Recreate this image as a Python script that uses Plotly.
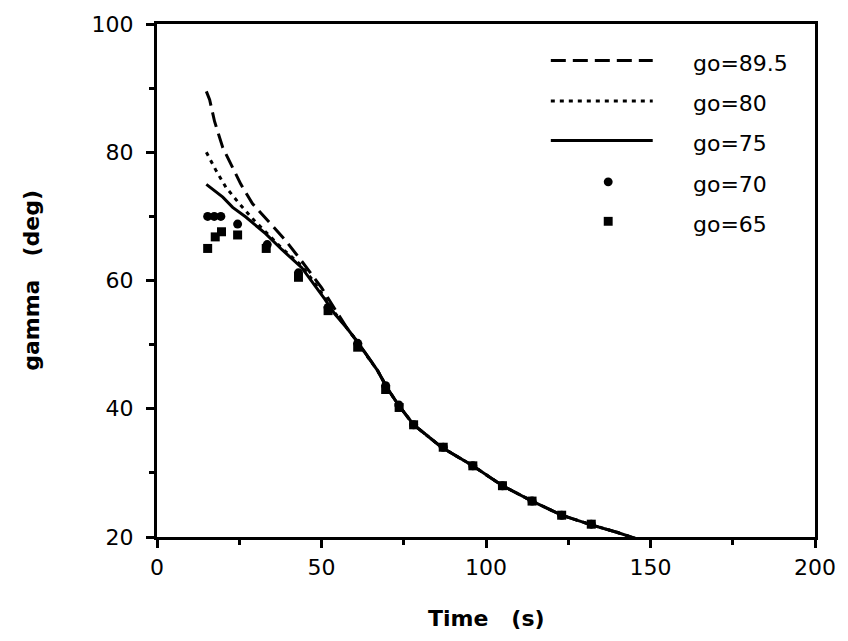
import plotly.graph_objects as go

# ---------------- data ----------------
# shared tail of all trajectories (curves merge after ~t=55 s)
t_tail = [58, 61, 64, 67, 70, 73.5, 78, 86.5, 96, 105, 114, 123, 132, 140, 147]
g_tail = [52.4, 50.4, 48.1, 46.0, 43.2, 40.5, 37.5, 34.0, 31.1, 28.0, 25.6, 23.4, 21.9, 20.7, 19.5]

t_895 = [15, 16, 17.5, 20, 23, 25.5, 29, 34.5, 39, 44, 50, 54]
g_895 = [89.5, 88.2, 84.8, 80.7, 77.6, 75.0, 72.0, 68.9, 66.3, 63.0, 58.9, 55.6]

t_80 = [15, 18, 21, 25, 29.5, 33.5, 38, 44, 47.5, 51, 54]
g_80 = [80.0, 77.1, 74.5, 72.0, 69.4, 67.3, 65.0, 62.3, 59.9, 57.3, 55.0]

t_75 = [15, 16.5, 18, 20, 23, 27, 33, 38, 44, 47.5, 51, 54]
g_75 = [75.0, 74.4, 73.8, 73.0, 71.4, 69.9, 67.3, 64.8, 62.0, 59.6, 57.1, 54.8]

t_70 = [15.4, 17.4, 19.4, 24.5, 33.5, 43, 52, 61, 69.5, 73.5, 78, 87, 96, 105, 114, 123, 132]
g_70 = [70.0, 70.0, 70.0, 68.8, 65.6, 61.2, 55.8, 50.2, 43.6, 40.6, 37.5, 34.0, 31.1, 28.0, 25.6, 23.4, 22.0]

t_65 = [15.4, 17.7, 19.6, 24.5, 33.2, 43, 52, 61, 69.5, 73.6, 78, 87, 96, 105, 114, 123, 132]
g_65 = [65.0, 66.8, 67.6, 67.1, 65.0, 60.5, 55.3, 49.6, 43.0, 40.2, 37.5, 34.0, 31.1, 28.0, 25.6, 23.4, 22.0]

x_ticks = [0, 50, 100, 150, 200]
y_ticks = [20, 40, 60, 80, 100]

legend_labels = ["go=89.5", "go=80", "go=75", "go=70", "go=65"]

FONT = "DejaVu Sans, Arial, sans-serif"
BLACK = "#000000"
DASH_LONG = "15px,7px"
DASH_DOT = "4px,5px"

fig = go.Figure()

line_series = [
    (t_895 + t_tail, g_895 + g_tail, DASH_LONG, legend_labels[0]),
    (t_80 + t_tail, g_80 + g_tail, DASH_DOT, legend_labels[1]),
    (t_75 + t_tail, g_75 + g_tail, "solid", legend_labels[2]),
]
for xs, ys, dash, name in line_series:
    fig.add_trace(go.Scatter(x=xs, y=ys, mode="lines", name=name,
                             line=dict(color=BLACK, width=3, dash=dash),
                             showlegend=False, cliponaxis=True))

fig.add_trace(go.Scatter(x=t_70, y=g_70, mode="markers", name=legend_labels[3],
                         marker=dict(symbol="circle", size=9, color=BLACK),
                         showlegend=False))
fig.add_trace(go.Scatter(x=t_65, y=g_65, mode="markers", name=legend_labels[4],
                         marker=dict(symbol="square", size=9, color=BLACK),
                         showlegend=False))

# ---------------- layout ----------------
L, R, T, B = 157, 26, 17, 104
W, H = 848, 641
pw, ph = W - L - R, H - T - B


def px_x(p):
    return (p - L) / pw


def px_y(p):
    return (H - B - p) / ph


axis_common = dict(
    showgrid=False, zeroline=False, showline=True, linecolor=BLACK, linewidth=3,
    mirror=True, ticks="outside", tickcolor=BLACK, tickwidth=3, ticklen=8,
    tickfont=dict(family=FONT, size=22, color=BLACK),
)

fig.update_layout(
    width=W, height=H, margin=dict(l=L, r=R, t=T, b=B, pad=0),
    paper_bgcolor="white", plot_bgcolor="white",
    showlegend=False,
    xaxis=dict(range=[0, 200], tickvals=x_ticks, ticktext=[str(v) for v in x_ticks],
               ticklabelstandoff=1,
               minor=dict(dtick=25, tick0=0, ticks="outside", ticklen=5, tickwidth=3, tickcolor=BLACK),
               **axis_common),
    yaxis=dict(range=[20, 100], tickvals=y_ticks, ticktext=[str(v) for v in y_ticks],
               ticklabelstandoff=8,
               minor=dict(dtick=10, tick0=0, ticks="outside", ticklen=5, tickwidth=3, tickcolor=BLACK),
               **axis_common),
)

NB = "\u00a0"
# axis titles
fig.add_annotation(text="<b>Time" + NB * 3 + "(s)</b>", xref="paper", yref="paper",
                   x=0.5, y=px_y(620), xanchor="center", yanchor="middle", showarrow=False,
                   font=dict(family=FONT, size=22, color=BLACK))
fig.add_annotation(text="<b>gamma" + NB * 3 + "(deg)</b>", xref="paper", yref="paper",
                   x=px_x(30), y=0.5, xanchor="center", yanchor="middle", showarrow=False,
                   textangle=-90, font=dict(family=FONT, size=22, color=BLACK))

# legend drawn manually (line samples, marker samples, labels)
rows_y = [54, 95, 135, 177, 217]
dashes = [DASH_LONG, DASH_DOT, "solid"]
for i in range(3):
    fig.add_shape(type="line", xref="paper", yref="paper",
                  x0=px_x(555), x1=px_x(658), y0=px_y(rows_y[i]), y1=px_y(rows_y[i]),
                  line=dict(color=BLACK, width=3, dash=dashes[i]))
r = 4.5
cx = 613
fig.add_shape(type="circle", xref="paper", yref="paper",
              x0=px_x(cx - r), x1=px_x(cx + r), y0=px_y(rows_y[3] - r), y1=px_y(rows_y[3] + r),
              fillcolor=BLACK, line=dict(color=BLACK, width=0))
fig.add_shape(type="rect", xref="paper", yref="paper",
              x0=px_x(cx - r), x1=px_x(cx + r), y0=px_y(rows_y[4] - r), y1=px_y(rows_y[4] + r),
              fillcolor=BLACK, line=dict(color=BLACK, width=0))
for i, lab in enumerate(legend_labels):
    fig.add_annotation(text=lab, xref="paper", yref="paper",
                       x=px_x(697), y=px_y(rows_y[i] + 3), xanchor="left", yanchor="middle",
                       showarrow=False, font=dict(family=FONT, size=22, color=BLACK))

fig.write_html("out.html")
